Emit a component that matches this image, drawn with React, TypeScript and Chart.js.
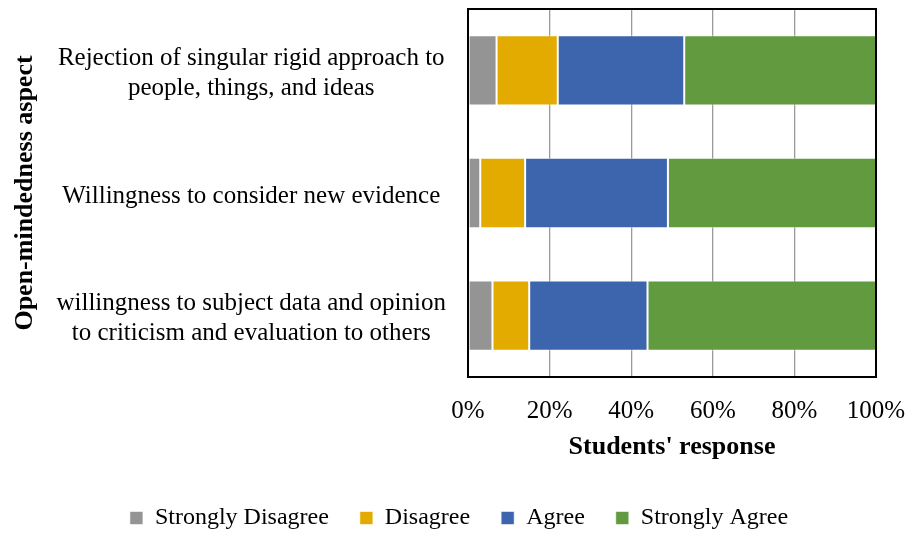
import React, { useEffect, useRef } from "react";
import { Chart, registerables } from "chart.js";

Chart.register(...registerables);

const categories: string[][] = [
  ["Rejection of singular rigid approach to", "people, things, and ideas"],
  ["Willingness to consider new evidence"],
  ["willingness to subject data and opinion", "to criticism and evaluation to others"],
];
const seriesNames = ["Strongly Disagree", "Disagree", "Agree", "Strongly Agree"];
const stronglyDisagree = [7, 3, 6];
const disagree = [15, 11, 9];
const agree = [31, 35, 29];
const stronglyAgree = [47, 51, 56];
const xTicks = [0, 20, 40, 60, 80, 100];
const xTitle = "Students' response";
const yTitle = "Open-mindedness aspect";
const colors = ["#949494", "#E3AB00", "#3D65AD", "#629A3F"];

const FONT = "'Liberation Serif', 'Times New Roman', serif";

const plotBorder = {
  id: "plotBorder",
  afterLayout(chart: any) {
    const lg = chart.legend;
    if (lg) {
      lg.left += 21;
      lg.right += 21;
    }
  },
  afterDraw(chart: any) {
    const { ctx, chartArea } = chart;
    ctx.save();
    ctx.strokeStyle = "#000";
    ctx.lineWidth = 2;
    ctx.strokeRect(chartArea.left, chartArea.top, chartArea.right - chartArea.left, chartArea.bottom - chartArea.top);
    ctx.restore();
  },
};

export default function App() {
  const ref = useRef<HTMLCanvasElement>(null);
  useEffect(() => {
    if (!ref.current) return;
    const series = [stronglyDisagree, disagree, agree, stronglyAgree];
    const chart = new Chart(ref.current, {
      type: "bar",
      data: {
        labels: categories,
        datasets: series.map((d, i) => ({
          label: seriesNames[i],
          data: d,
          backgroundColor: colors[i],
          borderColor: "rgba(255,255,255,0.55)",
          borderWidth: 1,
          borderSkipped: false,
          categoryPercentage: 1,
          barPercentage: 0.573,
        })),
      },
      options: {
        indexAxis: "y",
        animation: false,
        responsive: true,
        maintainAspectRatio: false,
        layout: { padding: { top: 9, right: 31, bottom: -6, left: 0 } },
        scales: {
          x: {
            stacked: true,
            min: 0,
            max: 100,
            afterBuildTicks: (scale: any) => {
              scale.ticks = xTicks.map((v) => ({ value: v }));
            },
            afterFit: (scale: any) => {
              scale.height = 98;
              scale.paddingLeft = 0;
              scale.paddingRight = 0;
            },
            grid: { color: "#9a9a9a", lineWidth: 1.3, drawTicks: false },
            border: { display: false },
            ticks: {
              padding: 19,
              color: "#000",
              font: { family: FONT, size: 25 },
              callback: (v: any) => v + "%",
            },
            title: {
              display: true,
              text: xTitle,
              color: "#000",
              font: { family: FONT, size: 26, weight: "bold" },
              padding: { top: 0, bottom: 12 },
            },
          },
          y: {
            stacked: true,
            afterFit: (scale: any) => {
              scale.width = 468;
              scale.paddingTop = 0;
              scale.paddingBottom = 0;
            },
            grid: { display: false, drawTicks: false },
            border: { display: false },
            ticks: {
              padding: 22,
              labelOffset: 3,
              crossAlign: "center",
              color: "#000",
              font: { family: FONT, size: 25, lineHeight: 1.2 },
            },
            title: {
              display: true,
              text: yTitle,
              color: "#000",
              font: { family: FONT, size: 26, weight: "bold" },
              padding: { top: 10, bottom: 0 },
            },
          },
        },
        plugins: {
          legend: {
            position: "bottom",
            labels: {
              boxWidth: 13,
              boxHeight: 13,
              padding: 31,
              color: "#000",
              font: { family: FONT, size: 24 },
            },
          },
          tooltip: { enabled: false },
        },
      },
      plugins: [plotBorder],
    } as any);
    return () => chart.destroy();
  }, []);
  return (
    <div style={{ position: "absolute", left: 0, top: 0, width: 907, height: 534 }}>
      <canvas ref={ref} />
    </div>
  );
}
